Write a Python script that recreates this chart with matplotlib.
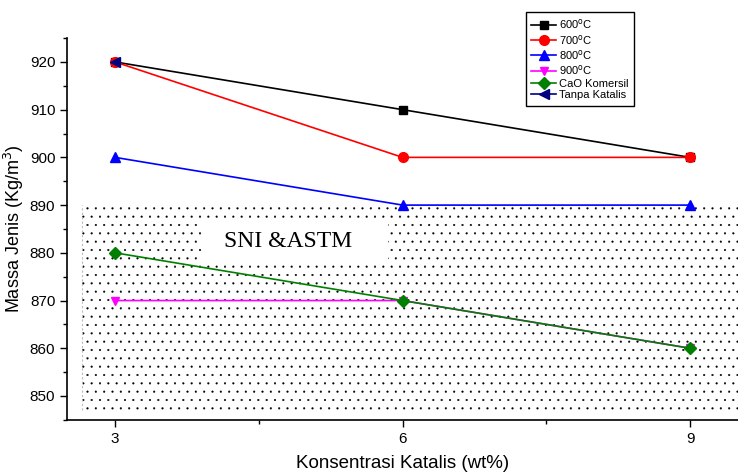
import matplotlib
matplotlib.use('Agg')
import matplotlib.pyplot as plt
from matplotlib.patches import Rectangle

plt.rcParams['font.family'] = ['Liberation Sans', 'DejaVu Sans']
plt.rcParams['hatch.linewidth'] = 0.3

konsentrasi = [3, 6, 9]
t600 = [920, 910, 900]
t700 = [920, 900, 900]
t800 = [900, 890, 890]
t900 = [870, 870, 860]
cao = [880, 870, 860]
tanpa_x = [3]
tanpa = [920]

# standard range (SNI & ASTM) shaded with dots
sni_x = [2.66, 9.5]
sni_low = 847.1
sni_high = 890

fig = plt.figure(figsize=(7.38, 4.76), dpi=100)
ax = fig.add_axes([0.091, 0.118, 0.909, 0.802])

ax.fill_between(sni_x, sni_low, sni_high, facecolor='white', edgecolor='black',
				hatch='..', linewidth=0, zorder=0)
ax.plot([sni_x[0], sni_x[0]], [sni_low, sni_high], color='#bbbbbb', lw=0.8,
		ls=(0, (2, 2)), zorder=0.5)
ax.add_patch(Rectangle((3.92, 877.7), 1.93, 9.1, facecolor='white',
					   edgecolor='none', zorder=0.6))
ax.text(4.81, 882.3, 'SNI &ASTM', family='Liberation Serif', fontsize=17,
		ha='center', va='center', zorder=0.7)

ax.plot(konsentrasi, t600, '-s', color='black', ms=6, lw=1.2, label='600$^{\\rm o}$C')
ax.plot(konsentrasi, t700, '-o', color='red', ms=7, lw=1.2, label='700$^{\\rm o}$C')
ax.plot(konsentrasi, t800, '-^', color='blue', ms=7, lw=1.2, label='800$^{\\rm o}$C')
ax.plot(konsentrasi, t900, '-v', color='magenta', ms=6, lw=1.2, label='900$^{\\rm o}$C')
ax.plot(konsentrasi, cao, '-D', color='green', ms=6.5, lw=1.2, label='CaO Komersil')
ax.plot(tanpa_x, tanpa, '-<', color='navy', ms=7, lw=1.2, label='Tanpa Katalis')

ax.set_xlim(2.5, 9.5)
ax.set_ylim(846, 925)
ax.set_xticks([3, 6, 9])
ax.set_xticks([4.5, 7.5], minor=True)
ax.set_yticks([850, 860, 870, 880, 890, 900, 910, 920])
ax.set_yticks([845, 855, 865, 875, 885, 895, 905, 915, 925], minor=True)
ax.tick_params(which='major', length=5, width=1, labelsize=11)
ax.tick_params(which='minor', length=3, width=1)
ax.spines['top'].set_visible(False)
ax.spines['right'].set_visible(False)
ax.spines['left'].set_linewidth(1.2)
ax.spines['bottom'].set_linewidth(1.2)

ax.set_xlabel('Konsentrasi Katalis (wt%)', fontsize=13.5, labelpad=7)
ax.set_ylabel('Massa Jenis (Kg/m$^3$)', fontsize=13, labelpad=3)

leg = ax.legend(loc='upper left', bbox_to_anchor=(0.705, 0.987),
				bbox_transform=fig.transFigure, fontsize=8, fancybox=False,
				edgecolor='black', framealpha=1, handlelength=2.2,
				labelspacing=0.12, borderpad=0.5, handletextpad=0.3)
leg.get_frame().set_linewidth(1.0)

fig.savefig('out.png', dpi=100)
